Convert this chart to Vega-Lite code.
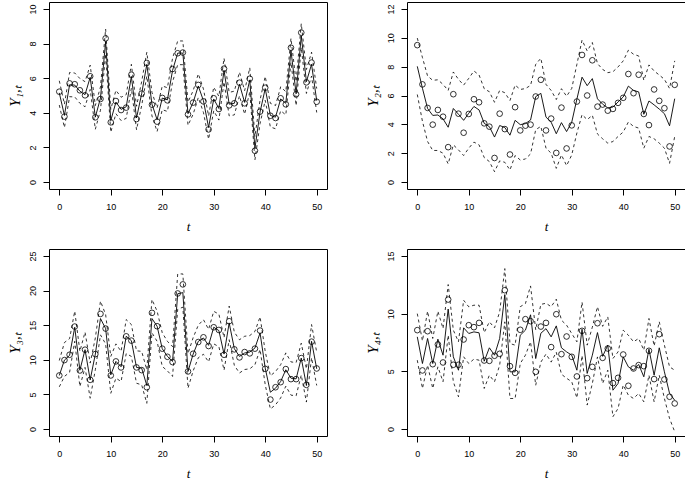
{
"$schema": "https://vega.github.io/schema/vega-lite/v6.json",
"padding": {"left": 6, "top": 1, "right": 0, "bottom": 0},
"background": "white",
"config": {
 "view": {"stroke": "black", "strokeWidth": 1},
 "axis": {"domain": false, "grid": false, "tickColor": "black", "tickSize": 6, "tickWidth": 1, "labelColor": "black", "labelFont": "Liberation Sans", "labelFontSize": 9, "labelFlush": false, "labelOverlap": false, "labelBound": false, "titleFont": "Liberation Serif", "titleFontStyle": "italic", "titleFontWeight": "normal", "titleFontSize": 13, "titleColor": "black"},
 "axisX": {"labelPadding": 7, "titleY": 41, "titleBaseline": "alphabetic"},
 "axisY": {"labelAngle": -90, "labelPadding": 6, "titleX": -30, "titleY": 93.5, "titleAngle": -90, "titleBaseline": "alphabetic", "titleAlign": "center", "titleFontSize": 15}
},
"datasets": {
"p1": [
{"t":0,"obs":5.22,"fit":5.15,"hi":5.85,"lo":4.45},{"t":1,"obs":3.78,"fit":3.85,"hi":4.5,"lo":3.15},{"t":2,"obs":5.7,"fit":5.62,"hi":6.33,"lo":4.93},{"t":3,"obs":5.65,"fit":5.6,"hi":6.3,"lo":4.92},{"t":4,"obs":5.3,"fit":5.25,"hi":5.98,"lo":4.55},{"t":5,"obs":5.01,"fit":5.05,"hi":5.8,"lo":4.35},{"t":6,"obs":6.11,"fit":6.05,"hi":6.75,"lo":5.35},{"t":7,"obs":3.74,"fit":3.75,"hi":4.42,"lo":3.05},{"t":8,"obs":4.8,"fit":4.85,"hi":5.5,"lo":4.15},{"t":9,"obs":8.3,"fit":8.12,"hi":8.84,"lo":7.4},
{"t":10,"obs":3.45,"fit":3.55,"hi":4.2,"lo":2.88},{"t":11,"obs":4.68,"fit":4.62,"hi":5.3,"lo":3.95},{"t":12,"obs":4.16,"fit":4.2,"hi":4.9,"lo":3.55},{"t":13,"obs":4.3,"fit":4.35,"hi":5.05,"lo":3.68},{"t":14,"obs":6.2,"fit":6.1,"hi":6.8,"lo":5.42},{"t":15,"obs":3.64,"fit":3.7,"hi":4.38,"lo":3.02},{"t":16,"obs":5.11,"fit":5.1,"hi":5.8,"lo":4.42},{"t":17,"obs":6.88,"fit":6.8,"hi":7.5,"lo":6.12},{"t":18,"obs":4.47,"fit":4.5,"hi":5.18,"lo":3.82},{"t":19,"obs":3.49,"fit":3.6,"hi":4.28,"lo":2.92},
{"t":20,"obs":4.86,"fit":4.85,"hi":5.55,"lo":4.18},{"t":21,"obs":4.72,"fit":4.75,"hi":5.45,"lo":4.08},{"t":22,"obs":6.53,"fit":6.45,"hi":7.15,"lo":5.78},{"t":23,"obs":7.44,"fit":7.45,"hi":8.15,"lo":6.78},{"t":24,"obs":7.48,"fit":7.45,"hi":8.15,"lo":6.78},{"t":25,"obs":3.91,"fit":3.95,"hi":4.62,"lo":3.28},{"t":26,"obs":4.59,"fit":4.6,"hi":5.28,"lo":3.92},{"t":27,"obs":5.61,"fit":5.55,"hi":6.25,"lo":4.88},{"t":28,"obs":4.66,"fit":4.7,"hi":5.38,"lo":4.02},{"t":29,"obs":3.04,"fit":3.15,"hi":3.82,"lo":2.48},
{"t":30,"obs":4.84,"fit":4.8,"hi":5.48,"lo":4.12},{"t":31,"obs":4.22,"fit":4.25,"hi":4.95,"lo":3.58},{"t":32,"obs":6.55,"fit":6.45,"hi":7.15,"lo":5.78},{"t":33,"obs":4.43,"fit":4.5,"hi":5.18,"lo":3.82},{"t":34,"obs":4.55,"fit":4.55,"hi":5.25,"lo":3.88},{"t":35,"obs":5.74,"fit":5.65,"hi":6.35,"lo":4.98},{"t":36,"obs":4.55,"fit":4.6,"hi":5.28,"lo":3.92},{"t":37,"obs":5.97,"fit":5.9,"hi":6.6,"lo":5.22},{"t":38,"obs":1.81,"fit":1.95,"hi":2.62,"lo":1.28},{"t":39,"obs":4.07,"fit":4.05,"hi":4.75,"lo":3.38},
{"t":40,"obs":5.45,"fit":5.4,"hi":6.1,"lo":4.72},{"t":41,"obs":3.83,"fit":3.85,"hi":4.55,"lo":3.18},{"t":42,"obs":3.7,"fit":3.75,"hi":4.42,"lo":3.08},{"t":43,"obs":4.84,"fit":4.8,"hi":5.5,"lo":4.12},{"t":44,"obs":4.49,"fit":4.55,"hi":5.22,"lo":3.88},{"t":45,"obs":7.76,"fit":7.6,"hi":8.3,"lo":6.92},{"t":46,"obs":5.07,"fit":5.1,"hi":5.8,"lo":4.42},{"t":47,"obs":8.63,"fit":8.45,"hi":9.15,"lo":7.78},{"t":48,"obs":5.76,"fit":5.8,"hi":6.5,"lo":5.12},{"t":49,"obs":6.9,"fit":6.8,"hi":7.5,"lo":6.12},{"t":50,"obs":4.64,"fit":4.7,"hi":5.4,"lo":4.02}
],
"p2": [
{"t":0,"obs":9.49,"fit":8.02,"hi":9.98,"lo":6.07},{"t":1,"obs":6.77,"fit":6.5,"hi":8.63,"lo":4.21},{"t":2,"obs":5.14,"fit":5.1,"hi":7.35,"lo":2.81},{"t":3,"obs":3.98,"fit":4.62,"hi":7.05,"lo":2.19},{"t":4,"obs":5.0,"fit":4.65,"hi":7.09,"lo":2.19},{"t":5,"obs":4.53,"fit":4.38,"hi":6.77,"lo":2.0},{"t":6,"obs":2.42,"fit":3.8,"hi":6.35,"lo":1.26},{"t":7,"obs":6.09,"fit":5.1,"hi":7.63,"lo":2.58},{"t":8,"obs":4.74,"fit":4.7,"hi":7.12,"lo":2.23},{"t":9,"obs":3.42,"fit":4.28,"hi":6.72,"lo":1.84},
{"t":10,"obs":4.72,"fit":4.77,"hi":7.19,"lo":2.35},{"t":11,"obs":5.74,"fit":5.24,"hi":7.7,"lo":2.77},{"t":12,"obs":5.53,"fit":5.0,"hi":7.42,"lo":2.58},{"t":13,"obs":4.07,"fit":4.07,"hi":6.47,"lo":1.7},{"t":14,"obs":3.84,"fit":3.84,"hi":6.26,"lo":1.42},{"t":15,"obs":1.67,"fit":3.12,"hi":5.53,"lo":0.72},{"t":16,"obs":4.74,"fit":3.92,"hi":6.35,"lo":1.47},{"t":17,"obs":3.67,"fit":3.78,"hi":6.19,"lo":1.37},{"t":18,"obs":1.91,"fit":3.25,"hi":5.65,"lo":0.84},{"t":19,"obs":5.19,"fit":4.28,"hi":6.72,"lo":1.84},
{"t":20,"obs":3.58,"fit":3.98,"hi":6.42,"lo":1.53},{"t":21,"obs":3.91,"fit":4.05,"hi":6.48,"lo":1.6},{"t":22,"obs":3.98,"fit":4.3,"hi":6.7,"lo":1.95},{"t":23,"obs":5.93,"fit":5.92,"hi":8.16,"lo":3.63},{"t":24,"obs":7.09,"fit":6.15,"hi":8.58,"lo":3.86},{"t":25,"obs":3.58,"fit":4.5,"hi":6.77,"lo":2.35},{"t":26,"obs":4.4,"fit":4.15,"hi":6.35,"lo":2.0},{"t":27,"obs":2.02,"fit":3.35,"hi":5.72,"lo":0.95},{"t":28,"obs":5.16,"fit":4.12,"hi":6.47,"lo":1.88},{"t":29,"obs":2.33,"fit":3.5,"hi":5.95,"lo":1.14},
{"t":30,"obs":3.93,"fit":4.15,"hi":6.49,"lo":1.88},{"t":31,"obs":5.58,"fit":5.75,"hi":8.16,"lo":3.4},{"t":32,"obs":8.81,"fit":7.27,"hi":9.84,"lo":4.67},{"t":33,"obs":6.0,"fit":6.68,"hi":9.09,"lo":4.33},{"t":34,"obs":8.44,"fit":7.17,"hi":9.67,"lo":4.63},{"t":35,"obs":5.23,"fit":5.77,"hi":8.21,"lo":3.33},{"t":36,"obs":5.37,"fit":5.4,"hi":7.81,"lo":3.0},{"t":37,"obs":4.95,"fit":5.14,"hi":7.58,"lo":2.7},{"t":38,"obs":5.07,"fit":5.2,"hi":7.65,"lo":2.81},{"t":39,"obs":5.49,"fit":5.55,"hi":7.98,"lo":3.16},
{"t":40,"obs":5.84,"fit":5.9,"hi":8.4,"lo":3.47},{"t":41,"obs":7.49,"fit":6.65,"hi":9.14,"lo":4.16},{"t":42,"obs":6.16,"fit":6.35,"hi":8.86,"lo":3.86},{"t":43,"obs":7.44,"fit":6.25,"hi":8.74,"lo":3.74},{"t":44,"obs":4.72,"fit":4.7,"hi":7.05,"lo":2.35},{"t":45,"obs":3.95,"fit":5.62,"hi":8.12,"lo":3.16},{"t":46,"obs":6.42,"fit":5.35,"hi":7.7,"lo":3.0},{"t":47,"obs":5.63,"fit":5.06,"hi":7.42,"lo":2.7},{"t":48,"obs":5.12,"fit":4.74,"hi":7.12,"lo":2.35},{"t":49,"obs":2.47,"fit":3.9,"hi":6.49,"lo":1.3},{"t":50,"obs":6.74,"fit":5.78,"hi":8.4,"lo":3.16}
],
"p3": [
{"t":0,"obs":7.74,"fit":7.74,"hi":9.9,"lo":6.1},{"t":1,"obs":9.96,"fit":9.96,"hi":12.5,"lo":7.6},{"t":2,"obs":10.73,"fit":10.64,"hi":13.06,"lo":8.2},{"t":3,"obs":14.8,"fit":14.7,"hi":17.02,"lo":12.67},{"t":4,"obs":8.46,"fit":8.5,"hi":11.22,"lo":6.14},{"t":5,"obs":11.46,"fit":11.46,"hi":14.0,"lo":8.9},{"t":6,"obs":7.11,"fit":7.1,"hi":9.53,"lo":4.45},{"t":7,"obs":10.83,"fit":10.83,"hi":13.15,"lo":8.56},{"t":8,"obs":16.63,"fit":15.96,"hi":18.47,"lo":13.6},{"t":9,"obs":14.51,"fit":14.51,"hi":16.54,"lo":12.3},
{"t":10,"obs":7.74,"fit":7.83,"hi":10.49,"lo":5.17},{"t":11,"obs":9.77,"fit":9.77,"hi":12.3,"lo":7.35},{"t":12,"obs":8.9,"fit":9.0,"hi":11.22,"lo":6.87},{"t":13,"obs":13.39,"fit":13.4,"hi":15.81,"lo":10.9},{"t":14,"obs":12.77,"fit":12.77,"hi":15.09,"lo":10.49},{"t":15,"obs":8.9,"fit":8.9,"hi":11.3,"lo":6.62},{"t":16,"obs":8.51,"fit":8.8,"hi":11.22,"lo":6.38},{"t":17,"obs":6.04,"fit":6.29,"hi":8.56,"lo":3.72},{"t":18,"obs":16.78,"fit":15.96,"hi":18.71,"lo":13.9},{"t":19,"obs":14.85,"fit":14.85,"hi":17.02,"lo":12.67},
{"t":20,"obs":11.61,"fit":11.6,"hi":13.9,"lo":9.04},{"t":21,"obs":10.44,"fit":10.5,"hi":12.67,"lo":8.4},{"t":22,"obs":9.67,"fit":9.77,"hi":11.9,"lo":7.6},{"t":23,"obs":19.58,"fit":19.54,"hi":22.4,"lo":17.3},{"t":24,"obs":20.89,"fit":19.7,"hi":22.4,"lo":17.6},{"t":25,"obs":8.32,"fit":8.32,"hi":10.9,"lo":5.9},{"t":26,"obs":10.88,"fit":10.83,"hi":13.2,"lo":8.4},{"t":27,"obs":12.57,"fit":12.67,"hi":15.0,"lo":10.3},{"t":28,"obs":13.25,"fit":13.15,"hi":15.8,"lo":10.8},{"t":29,"obs":11.99,"fit":12.09,"hi":14.4,"lo":9.7},
{"t":30,"obs":14.7,"fit":14.7,"hi":17.0,"lo":12.3},{"t":31,"obs":14.31,"fit":14.22,"hi":16.6,"lo":11.9},{"t":32,"obs":10.73,"fit":10.83,"hi":13.2,"lo":8.5},{"t":33,"obs":15.57,"fit":15.33,"hi":17.75,"lo":12.9},{"t":34,"obs":11.51,"fit":11.6,"hi":14.0,"lo":9.2},{"t":35,"obs":10.35,"fit":10.49,"hi":12.9,"lo":8.1},{"t":36,"obs":11.12,"fit":10.98,"hi":13.4,"lo":8.6},{"t":37,"obs":10.93,"fit":11.12,"hi":13.5,"lo":8.7},{"t":38,"obs":11.61,"fit":11.7,"hi":14.1,"lo":9.3},{"t":39,"obs":14.22,"fit":13.88,"hi":16.2,"lo":11.5},
{"t":40,"obs":8.7,"fit":8.8,"hi":11.2,"lo":6.4},{"t":41,"obs":4.26,"fit":5.32,"hi":7.7,"lo":2.9},{"t":42,"obs":6.04,"fit":5.9,"hi":8.3,"lo":3.5},{"t":43,"obs":6.77,"fit":6.87,"hi":9.3,"lo":4.5},{"t":44,"obs":8.66,"fit":8.56,"hi":11.0,"lo":6.2},{"t":45,"obs":7.21,"fit":7.35,"hi":9.7,"lo":4.9},{"t":46,"obs":7.21,"fit":7.25,"hi":9.6,"lo":4.8},{"t":47,"obs":10.25,"fit":10.25,"hi":12.4,"lo":7.8},{"t":48,"obs":6.38,"fit":6.29,"hi":8.7,"lo":3.9},{"t":49,"obs":12.62,"fit":12.67,"hi":15.09,"lo":10.3},{"t":50,"obs":8.75,"fit":8.7,"hi":11.1,"lo":6.3}
],
"p4": [
{"t":0,"obs":8.57,"fit":7.99,"hi":10.0,"lo":5.97},{"t":1,"obs":5.08,"fit":5.68,"hi":7.64,"lo":3.52},{"t":2,"obs":8.48,"fit":7.85,"hi":10.21,"lo":5.54},{"t":3,"obs":5.62,"fit":5.68,"hi":7.85,"lo":3.52},{"t":4,"obs":7.33,"fit":7.79,"hi":10.21,"lo":5.39},{"t":5,"obs":5.77,"fit":6.4,"hi":8.71,"lo":4.1},{"t":6,"obs":11.22,"fit":10.4,"hi":12.52,"lo":8.13},{"t":7,"obs":5.57,"fit":6.26,"hi":8.57,"lo":4.1},{"t":8,"obs":5.57,"fit":5.1,"hi":7.56,"lo":2.8},{"t":9,"obs":7.76,"fit":8.77,"hi":11.16,"lo":6.26},
{"t":10,"obs":9.0,"fit":8.28,"hi":10.59,"lo":5.68},{"t":11,"obs":8.83,"fit":8.42,"hi":10.73,"lo":6.06},{"t":12,"obs":9.2,"fit":8.34,"hi":10.73,"lo":5.97},{"t":13,"obs":5.94,"fit":5.88,"hi":8.36,"lo":3.52},{"t":14,"obs":5.91,"fit":7.04,"hi":9.29,"lo":4.67},{"t":15,"obs":6.35,"fit":6.4,"hi":8.77,"lo":4.1},{"t":16,"obs":6.52,"fit":7.85,"hi":10.15,"lo":5.54},{"t":17,"obs":12.03,"fit":11.65,"hi":13.9,"lo":9.29},{"t":18,"obs":5.45,"fit":4.96,"hi":7.41,"lo":2.65},{"t":19,"obs":4.87,"fit":4.96,"hi":7.27,"lo":2.65},
{"t":20,"obs":8.6,"fit":8.13,"hi":10.6,"lo":5.68},{"t":21,"obs":9.52,"fit":8.57,"hi":10.87,"lo":6.4},{"t":22,"obs":9.35,"fit":9.9,"hi":12.4,"lo":7.56},{"t":23,"obs":4.96,"fit":6.11,"hi":8.6,"lo":3.8},{"t":24,"obs":8.88,"fit":8.3,"hi":10.8,"lo":5.8},{"t":25,"obs":9.2,"fit":8.7,"hi":10.9,"lo":6.5},{"t":26,"obs":7.1,"fit":7.99,"hi":10.6,"lo":5.8},{"t":27,"obs":9.95,"fit":8.94,"hi":11.25,"lo":6.66},{"t":28,"obs":6.49,"fit":7.04,"hi":9.43,"lo":4.75},{"t":29,"obs":8.02,"fit":6.69,"hi":9.0,"lo":4.4},
{"t":30,"obs":6.26,"fit":6.4,"hi":8.28,"lo":4.1},{"t":31,"obs":4.56,"fit":5.1,"hi":7.56,"lo":2.7},{"t":32,"obs":8.51,"fit":8.65,"hi":11.0,"lo":6.37},{"t":33,"obs":4.41,"fit":4.82,"hi":7.27,"lo":2.08},{"t":34,"obs":5.39,"fit":6.4,"hi":8.83,"lo":3.95},{"t":35,"obs":9.17,"fit":8.36,"hi":10.6,"lo":6.25},{"t":36,"obs":6.17,"fit":6.3,"hi":8.9,"lo":3.95},{"t":37,"obs":6.98,"fit":7.27,"hi":9.72,"lo":5.1},{"t":38,"obs":3.98,"fit":3.37,"hi":6.11,"lo":1.07},{"t":39,"obs":4.44,"fit":3.95,"hi":6.69,"lo":1.79},
{"t":40,"obs":6.46,"fit":6.26,"hi":8.57,"lo":3.81},{"t":41,"obs":3.75,"fit":5.39,"hi":8.13,"lo":2.94},{"t":42,"obs":5.25,"fit":5.1,"hi":7.56,"lo":2.65},{"t":43,"obs":5.54,"fit":5.6,"hi":7.85,"lo":3.09},{"t":44,"obs":5.45,"fit":4.53,"hi":6.84,"lo":2.36},{"t":45,"obs":6.78,"fit":6.92,"hi":9.58,"lo":4.67},{"t":46,"obs":4.33,"fit":4.67,"hi":7.2,"lo":2.36},{"t":47,"obs":8.22,"fit":7.04,"hi":9.3,"lo":4.67},{"t":48,"obs":4.3,"fit":4.96,"hi":7.27,"lo":2.65},{"t":49,"obs":2.8,"fit":3.09,"hi":5.39,"lo":0.92},{"t":50,"obs":2.22,"fit":2.5,"hi":5.1,"lo":-0.23}
]
},
"columns": 2,
"bounds": "flush",
"spacing": {"row": 60, "column": 80},
"concat": [
{
 "data": {"name": "p1"}, "width": 278, "height": 187,
 "encoding": {"x": {"field": "t", "type": "quantitative", "scale": {"domain": [-2, 52], "nice": false, "zero": false}, "axis": {"values": [0,10,20,30,40,50], "title": "t"}}},
 "layer": [
  {"mark": {"type": "line", "color": "black", "strokeWidth": 0.8, "strokeDash": [3,3]}, "encoding": {"y": {"field": "hi", "type": "quantitative", "scale": {"domain": [-0.4, 10.4], "nice": false, "zero": false}, "axis": {"values": [0,2,4,6,8,10], "title": "Y₁,ₜ"}}}},
  {"mark": {"type": "line", "color": "black", "strokeWidth": 0.8, "strokeDash": [3,3]}, "encoding": {"y": {"field": "lo", "type": "quantitative", "axis": {"values": [0,2,4,6,8,10], "title": "Y₁,ₜ"}}}},
  {"mark": {"type": "line", "color": "black", "strokeWidth": 0.9}, "encoding": {"y": {"field": "fit", "type": "quantitative", "axis": {"values": [0,2,4,6,8,10], "title": "Y₁,ₜ"}}}},
  {"mark": {"type": "point", "shape": "circle", "filled": false, "color": "black", "size": 32, "strokeWidth": 0.8, "opacity": 1}, "encoding": {"y": {"field": "obs", "type": "quantitative", "axis": {"values": [0,2,4,6,8,10], "title": "Y₁,ₜ"}}}}
 ]
},
{
 "data": {"name": "p2"}, "width": 278, "height": 187,
 "encoding": {"x": {"field": "t", "type": "quantitative", "scale": {"domain": [-2, 52], "nice": false, "zero": false}, "axis": {"values": [0,10,20,30,40,50], "title": "t"}}},
 "layer": [
  {"mark": {"type": "line", "color": "black", "strokeWidth": 0.8, "strokeDash": [3,3]}, "encoding": {"y": {"field": "hi", "type": "quantitative", "scale": {"domain": [-0.48, 12.48], "nice": false, "zero": false}, "axis": {"values": [0,2,4,6,8,10,12], "title": "Y₂,ₜ"}}}},
  {"mark": {"type": "line", "color": "black", "strokeWidth": 0.8, "strokeDash": [3,3]}, "encoding": {"y": {"field": "lo", "type": "quantitative", "axis": {"values": [0,2,4,6,8,10,12], "title": "Y₂,ₜ"}}}},
  {"mark": {"type": "line", "color": "black", "strokeWidth": 0.9}, "encoding": {"y": {"field": "fit", "type": "quantitative", "axis": {"values": [0,2,4,6,8,10,12], "title": "Y₂,ₜ"}}}},
  {"mark": {"type": "point", "shape": "circle", "filled": false, "color": "black", "size": 32, "strokeWidth": 0.8, "opacity": 1}, "encoding": {"y": {"field": "obs", "type": "quantitative", "axis": {"values": [0,2,4,6,8,10,12], "title": "Y₂,ₜ"}}}}
 ]
},
{
 "data": {"name": "p3"}, "width": 278, "height": 187,
 "encoding": {"x": {"field": "t", "type": "quantitative", "scale": {"domain": [-2, 52], "nice": false, "zero": false}, "axis": {"values": [0,10,20,30,40,50], "title": "t"}}},
 "layer": [
  {"mark": {"type": "line", "color": "black", "strokeWidth": 0.8, "strokeDash": [3,3]}, "encoding": {"y": {"field": "hi", "type": "quantitative", "scale": {"domain": [-1, 26], "nice": false, "zero": false}, "axis": {"values": [0,5,10,15,20,25], "title": "Y₃,ₜ"}}}},
  {"mark": {"type": "line", "color": "black", "strokeWidth": 0.8, "strokeDash": [3,3]}, "encoding": {"y": {"field": "lo", "type": "quantitative", "axis": {"values": [0,5,10,15,20,25], "title": "Y₃,ₜ"}}}},
  {"mark": {"type": "line", "color": "black", "strokeWidth": 0.9}, "encoding": {"y": {"field": "fit", "type": "quantitative", "axis": {"values": [0,5,10,15,20,25], "title": "Y₃,ₜ"}}}},
  {"mark": {"type": "point", "shape": "circle", "filled": false, "color": "black", "size": 32, "strokeWidth": 0.8, "opacity": 1}, "encoding": {"y": {"field": "obs", "type": "quantitative", "axis": {"values": [0,5,10,15,20,25], "title": "Y₃,ₜ"}}}}
 ]
},
{
 "data": {"name": "p4"}, "width": 278, "height": 187,
 "encoding": {"x": {"field": "t", "type": "quantitative", "scale": {"domain": [-2, 52], "nice": false, "zero": false}, "axis": {"values": [0,10,20,30,40,50], "title": "t"}}},
 "layer": [
  {"mark": {"type": "line", "color": "black", "strokeWidth": 0.8, "strokeDash": [3,3]}, "encoding": {"y": {"field": "hi", "type": "quantitative", "scale": {"domain": [-0.6, 15.6], "nice": false, "zero": false}, "axis": {"values": [0,5,10,15], "title": "Y₄,ₜ"}}}},
  {"mark": {"type": "line", "color": "black", "strokeWidth": 0.8, "strokeDash": [3,3]}, "encoding": {"y": {"field": "lo", "type": "quantitative", "axis": {"values": [0,5,10,15], "title": "Y₄,ₜ"}}}},
  {"mark": {"type": "line", "color": "black", "strokeWidth": 0.9}, "encoding": {"y": {"field": "fit", "type": "quantitative", "axis": {"values": [0,5,10,15], "title": "Y₄,ₜ"}}}},
  {"mark": {"type": "point", "shape": "circle", "filled": false, "color": "black", "size": 32, "strokeWidth": 0.8, "opacity": 1}, "encoding": {"y": {"field": "obs", "type": "quantitative", "axis": {"values": [0,5,10,15], "title": "Y₄,ₜ"}}}}
 ]
}
]
}
